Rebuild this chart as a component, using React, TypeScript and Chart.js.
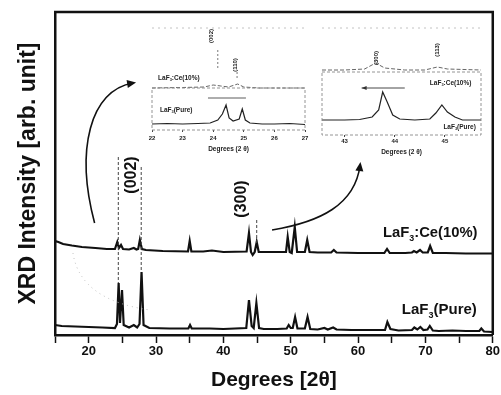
import React, { useEffect, useRef } from "react";
import { Chart, registerables } from "chart.js";
Chart.register(...registerables);

const FONT = "'Liberation Sans', Arial, Helvetica, sans-serif";

// ---------- main chart data ----------
const xTickValues = [15, 20, 25, 30, 35, 40, 45, 50, 55, 60, 65, 70, 75, 80];

const pureDeg = [15, 16, 18, 20, 22, 23.9, 24.2, 24.45, 24.65, 24.95, 25.2, 26, 26.7, 27.2, 27.55, 27.85, 28.15, 29, 32, 34.8, 35.05, 35.3, 38, 40, 43.4, 43.8, 44.2, 44.5, 44.9, 45.3, 46, 48, 49.4, 49.7, 50.0, 50.3, 50.65, 51.0, 52.1, 52.5, 52.9, 54, 55, 55.5, 56.3, 56.8, 59, 62, 64.0, 64.35, 64.8, 66, 68.0, 68.35, 68.8, 69.25, 69.7, 70.3, 70.65, 71.1, 72, 74, 76, 78.0, 78.3, 78.7, 80];
const pureInt = [12, 11, 10.5, 10, 9.5, 9, 13, 54, 14, 47, 12, 9.5, 12, 9.5, 13, 65, 12, 9, 8.5, 8.5, 12, 8.5, 8.5, 8, 9, 37, 11, 9, 34, 9, 8, 8, 8.5, 12, 9, 9, 20, 8.5, 8.5, 20, 8, 7.5, 9, 7.5, 9.5, 7.5, 7, 7, 7, 15, 8, 6.5, 7, 9.5, 7.5, 10, 7, 7.5, 11, 6.5, 6, 6.5, 6, 6, 8.5, 5.5, 5];

const ceDeg = [15, 15.5, 16.2, 17.5, 19, 21, 22.7, 23.9, 24.25, 24.5, 24.8, 25.1, 26, 26.7, 27.1, 27.35, 27.6, 27.9, 28.5, 31, 34.75, 35.0, 35.25, 37, 38.3, 40, 43.45, 43.8, 44.1, 44.35, 44.65, 44.95, 45.25, 47, 49.3, 49.55, 49.85, 50.15, 50.6, 50.95, 52.1, 52.45, 52.8, 54, 56.0, 56.4, 56.8, 60, 63.9, 64.3, 64.7, 67, 68.0, 68.3, 68.7, 69.2, 69.6, 70.35, 70.7, 71.1, 73, 76, 80];
const ceInt = [96, 95, 93, 91.5, 90, 89, 88, 88, 95, 89, 92, 88, 87.5, 89, 87.5, 88, 97, 88, 87, 86, 85.5, 96, 85.5, 85.5, 86.5, 85, 85.5, 104, 85, 82, 85, 95, 85, 85, 85, 100, 85, 84, 110, 85, 85, 97, 85, 84.5, 84.5, 87, 84.5, 84, 84, 88, 84, 84, 84.5, 86, 84.5, 87, 84.5, 84.5, 91, 84, 84, 83.5, 83.5];

// ---------- inset data ----------
const inset1Ticks = [22, 23, 24, 25, 26, 27];
const inset1PureDeg = [22, 22.5, 23, 23.5, 23.9, 24.15, 24.3, 24.42, 24.52, 24.65, 24.85, 24.95, 25.05, 25.2, 25.6, 26, 26.5, 27];
const inset1PureInt = [6, 6.5, 6, 6.5, 7, 10, 16, 25, 12, 9, 11, 21, 10, 7, 6, 6, 6.5, 5.5];
const inset1CeDeg = [22, 23, 23.7, 24.0, 24.25, 24.5, 24.8, 25.0, 25.5, 26, 27];
const inset1CeInt = [42, 42.5, 43, 45, 44, 43, 46, 43, 42, 42, 42];

const inset2Ticks = [43, 44, 45];
const inset2PureDeg = [42.55, 43, 43.3, 43.55, 43.68, 43.76, 43.85, 43.96, 44.1, 44.4, 44.7, 44.82, 44.94, 45.05, 45.2, 45.35, 45.72];
const inset2PureInt = [15, 15, 15.5, 18, 25, 43, 33, 20, 16, 15, 16, 22, 30, 23, 18, 15, 15];
const inset2CeDeg = [42.55, 43, 43.4, 43.62, 43.8, 44.2, 44.6, 44.85, 45.05, 45.72];
const inset2CeInt = [65, 65, 66, 72, 67, 65, 65, 68, 66, 65];

const toXY = (xs: number[], ys: number[]) => xs.map((x, i) => ({ x, y: ys[i] }));

// ---------- drawing helpers ----------
function drawLaF(ctx: CanvasRenderingContext2D, x: number, y: number, size: number, rest: string, color = "#111") {
  ctx.save();
  ctx.fillStyle = color;
  ctx.textAlign = "left";
  ctx.textBaseline = "middle";
  ctx.font = `bold ${size}px ${FONT}`;
  ctx.fillText("LaF", x, y);
  const w1 = ctx.measureText("LaF").width;
  ctx.font = `bold ${size * 0.6}px ${FONT}`;
  ctx.fillText("3", x + w1, y + size * 0.35);
  const w2 = ctx.measureText("3").width;
  ctx.font = `bold ${size}px ${FONT}`;
  ctx.fillText(rest, x + w1 + w2, y);
  ctx.restore();
}

function rotText(ctx: CanvasRenderingContext2D, text: string, x: number, y: number, size: number, color = "#111") {
  ctx.save();
  ctx.translate(x, y);
  ctx.rotate(-Math.PI / 2);
  ctx.font = `bold ${size}px ${FONT}`;
  ctx.fillStyle = color;
  ctx.textAlign = "center";
  ctx.textBaseline = "middle";
  ctx.fillText(text, 0, 0);
  ctx.restore();
}

function arrowHead(ctx: CanvasRenderingContext2D, x: number, y: number, ang: number, len: number, wid: number) {
  ctx.beginPath();
  ctx.moveTo(x, y);
  ctx.lineTo(x - len * Math.cos(ang) + wid * Math.sin(ang), y - len * Math.sin(ang) - wid * Math.cos(ang));
  ctx.lineTo(x - len * Math.cos(ang) - wid * Math.sin(ang), y - len * Math.sin(ang) + wid * Math.cos(ang));
  ctx.closePath();
  ctx.fill();
}

function curvedArrow(ctx: CanvasRenderingContext2D, pts: number[][]) {
  const [p0, p1, p2, p3] = pts;
  ctx.beginPath();
  ctx.moveTo(p0[0], p0[1]);
  ctx.bezierCurveTo(p1[0], p1[1], p2[0], p2[1], p3[0], p3[1]);
  ctx.stroke();
  const ang = Math.atan2(p3[1] - p2[1], p3[0] - p2[0]);
  arrowHead(ctx, p3[0] + 3 * Math.cos(ang), p3[1] + 3 * Math.sin(ang), ang, 9, 4);
}

// ---------- main decor plugin ----------
const mainDecor = {
  id: "mainDecor",
  afterDraw(chart: any) {
    const { ctx, chartArea: a, scales } = chart;
    const X = (d: number) => scales.x.getPixelForValue(d);
    const Y = (v: number) => scales.y.getPixelForValue(v);
    ctx.save();
    // frame top & right
    ctx.strokeStyle = "#111";
    ctx.lineWidth = 2.5;
    ctx.beginPath();
    ctx.moveTo(a.left - 1, a.top);
    ctx.lineTo(a.right, a.top);
    ctx.lineTo(a.right, a.bottom);
    ctx.stroke();

    // dashed guide lines
    ctx.strokeStyle = "#444";
    ctx.lineWidth = 1;
    ctx.setLineDash([3, 2]);
    const guides = [[24.4, 180, 54], [27.8, 170, 65], [44.95, 117, 92]];
    guides.forEach(([d, v1, v2]) => {
      ctx.beginPath();
      ctx.moveTo(X(d), Y(v1));
      ctx.lineTo(X(d), Y(v2));
      ctx.stroke();
    });

    // faint dotted arc
    ctx.strokeStyle = "#bbb";
    ctx.setLineDash([1, 4]);
    ctx.beginPath();
    ctx.moveTo(X(17.67), Y(84));
    ctx.quadraticCurveTo(X(18.7), Y(37), X(29.1), Y(27));
    ctx.stroke();
    ctx.setLineDash([]);

    // curved arrows
    ctx.strokeStyle = "#111";
    ctx.fillStyle = "#111";
    ctx.lineWidth = 1.6;
    curvedArrow(ctx, [[X(20.88), Y(114)], [X(18.0), Y(187)], [X(20.2), Y(247)], [X(26.6), Y(254)]]);
    curvedArrow(ctx, [[X(47.23), Y(107)], [X(54.35), Y(115)], [X(59.55), Y(132)], [X(60.3), Y(172)]]);

    // peak labels
    rotText(ctx, "(002)", X(26.43), Y(162), 16);
    rotText(ctx, "(300)", X(42.75), Y(138), 16);

    // series labels
    drawLaF(ctx, X(63.7), Y(104), 14.8, ":Ce(10%)");
    drawLaF(ctx, X(66.5), Y(27), 15, "(Pure)");
    ctx.restore();
  },
};

function MainChart() {
  const ref = useRef<HTMLCanvasElement>(null);
  useEffect(() => {
    const chart = new Chart(ref.current as HTMLCanvasElement, {
      type: "line",
      data: {
        datasets: [
          { data: toXY(ceDeg, ceInt), borderColor: "#111", borderWidth: 2.2, pointRadius: 0, tension: 0, fill: false },
          { data: toXY(pureDeg, pureInt), borderColor: "#111", borderWidth: 2.2, pointRadius: 0, tension: 0, fill: false },
        ],
      },
      options: {
        animation: false,
        responsive: false,
        devicePixelRatio: 1,
        layout: { padding: { top: 12, right: 8, left: 0, bottom: 0 } },
        plugins: { legend: { display: false }, tooltip: { enabled: false } },
        scales: {
          x: {
            type: "linear",
            min: 15,
            max: 80,
            afterFit: (s: any) => { s.height = 60; },
            afterBuildTicks: (s: any) => { s.ticks = xTickValues.map((v) => ({ value: v })); },
            ticks: {
              autoSkip: false,
              maxRotation: 0,
              padding: 1,
              color: "#111",
              font: { family: FONT, size: 13, weight: "bold" },
              callback: (v: any) => (Number(v) % 10 === 0 && Number(v) > 15 ? String(v) : ""),
            },
            grid: { display: true, drawOnChartArea: false, drawTicks: true, tickLength: 8, tickWidth: 1.5, tickColor: "#111" },
            border: { display: true, color: "#111", width: 2.5 },
            title: {
              display: true,
              text: "Degrees [2θ]",
              color: "#111",
              font: { family: FONT, size: 21, weight: "bold" },
              padding: { top: 0, bottom: 2 },
            },
          },
          y: {
            type: "linear",
            min: 2,
            max: 325,
            afterFit: (s: any) => { s.width = 55; },
            ticks: { display: false },
            grid: { display: false, drawTicks: false },
            border: { display: true, color: "#111", width: 2.5 },
            title: {
              display: true,
              text: "XRD Intensity [arb. unit]",
              color: "#111",
              font: { family: FONT, size: 23, weight: "bold" },
              padding: { top: 15, bottom: 0 },
            },
          },
        },
      },
      plugins: [mainDecor],
    } as any);
    return () => chart.destroy();
  }, []);
  return <canvas ref={ref} width={501} height={395} style={{ position: "absolute", left: 0, top: 0 }} />;
}

// ---------- inset charts ----------
type InsetProps = {
  left: number; top: number; width: number; height: number;
  pad: { left: number; right: number; top: number };
  axisH: number; tickPad: number;
  xMin: number; xMax: number; yMax: number; frameTop: number;
  ticks: number[];
  pure: { x: number; y: number }[];
  ce: { x: number; y: number }[];
  decor: (ctx: CanvasRenderingContext2D, X: (d: number) => number, Y: (v: number) => number) => void;
};

function InsetChart(p: InsetProps) {
  const ref = useRef<HTMLCanvasElement>(null);
  useEffect(() => {
    const deco = {
      id: "insetDecor",
      afterDraw(chart: any) {
        const { ctx, chartArea: a, scales } = chart;
        const X = (d: number) => scales.x.getPixelForValue(d);
        const Y = (v: number) => scales.y.getPixelForValue(v);
        ctx.save();
        ctx.strokeStyle = "#888";
        ctx.lineWidth = 0.9;
        ctx.setLineDash([3, 2]);
        const ft = Y(p.frameTop);
        ctx.strokeRect(a.left, ft, a.right - a.left, a.bottom - ft);
        ctx.strokeStyle = "#bbb";
        ctx.setLineDash([2, 4]);
        ctx.beginPath();
        ctx.moveTo(a.left, a.top);
        ctx.lineTo(a.right, a.top);
        ctx.stroke();
        ctx.setLineDash([]);
        p.decor(ctx, X, Y);
        ctx.restore();
      },
    };
    const chart = new Chart(ref.current as HTMLCanvasElement, {
      type: "line",
      data: {
        datasets: [
          { data: p.ce, borderColor: "#666", borderWidth: 1, borderDash: [4, 2], pointRadius: 0, tension: 0, clip: false },
          { data: p.pure, borderColor: "#222", borderWidth: 1.2, pointRadius: 0, tension: 0, clip: false },
        ],
      },
      options: {
        animation: false,
        responsive: false,
        devicePixelRatio: 1,
        layout: { padding: { top: p.pad.top, right: p.pad.right, left: p.pad.left, bottom: 0 } },
        plugins: { legend: { display: false }, tooltip: { enabled: false } },
        scales: {
          x: {
            type: "linear",
            min: p.xMin,
            max: p.xMax,
            afterFit: (s: any) => { s.height = p.axisH; },
            afterBuildTicks: (s: any) => { s.ticks = p.ticks.map((v) => ({ value: v })); },
            ticks: { autoSkip: false, maxRotation: 0, padding: p.tickPad, color: "#222", font: { family: FONT, size: 6, weight: "bold" } },
            grid: { display: true, drawOnChartArea: false, drawTicks: true, tickLength: 2, tickWidth: 1, tickColor: "#444" },
            border: { display: false },
            title: {
              display: true,
              text: "Degrees (2 θ)",
              color: "#222",
              font: { family: FONT, size: 6.5, weight: "bold" },
              padding: { top: 0, bottom: 0 },
            },
          },
          y: { type: "linear", min: 0, max: p.yMax, display: false },
        },
      },
      plugins: [deco],
    } as any);
    return () => chart.destroy();
  }, []);
  return (
    <canvas
      ref={ref}
      width={p.width}
      height={p.height}
      style={{ position: "absolute", left: p.left, top: p.top }}
    />
  );
}

const inset1Decor = (ctx: CanvasRenderingContext2D, X: (d: number) => number, Y: (v: number) => number) => {
  rotText(ctx, "(002)", X(23.93), Y(94), 6);
  rotText(ctx, "(110)", X(24.71), Y(65), 6);
  ctx.strokeStyle = "#555";
  ctx.lineWidth = 0.8;
  ctx.setLineDash([2, 2]);
  ctx.beginPath();
  ctx.moveTo(X(24.15), Y(80)); ctx.lineTo(X(24.15), Y(60));
  ctx.moveTo(X(24.78), Y(58)); ctx.lineTo(X(24.78), Y(50));
  ctx.stroke();
  ctx.setLineDash([]);
  ctx.strokeStyle = "#333";
  ctx.beginPath();
  ctx.moveTo(X(23.83), Y(32)); ctx.lineTo(X(25.07), Y(32));
  ctx.stroke();
  drawLaF(ctx, X(22.2), Y(52), 6.5, ":Ce(10%)", "#222");
  drawLaF(ctx, X(22.26), Y(20), 6.5, "(Pure)", "#222");
};

const inset2Decor = (ctx: CanvasRenderingContext2D, X: (d: number) => number, Y: (v: number) => number) => {
  rotText(ctx, "(300)", X(43.64), Y(77), 6);
  rotText(ctx, "(113)", X(44.84), Y(85), 6);
  ctx.strokeStyle = "#333";
  ctx.fillStyle = "#333";
  ctx.lineWidth = 0.9;
  ctx.beginPath();
  ctx.moveTo(X(44.2), Y(47)); ctx.lineTo(X(43.34), Y(47));
  ctx.stroke();
  arrowHead(ctx, X(43.34), Y(47), Math.PI, 5, 2);
  drawLaF(ctx, X(44.7), Y(52), 6.5, ":Ce(10%)", "#222");
  drawLaF(ctx, X(44.97), Y(8), 6.5, "(Pure)", "#222");
};

export default function App() {
  return (
    <div style={{ position: "fixed", left: 0, top: 0, width: 501, height: 395, background: "#fff", overflow: "hidden" }}>
      <MainChart />
      <InsetChart
        left={140} top={18} width={172} height={135}
        pad={{ left: 12, right: 7, top: 10 }} axisH={23} tickPad={3}
        xMin={22} xMax={27} yMax={102} frameTop={42}
        ticks={inset1Ticks}
        pure={toXY(inset1PureDeg, inset1PureInt)}
        ce={toXY(inset1CeDeg, inset1CeInt)}
        decor={inset1Decor}
      />
      <InsetChart
        left={310} top={18} width={180} height={138}
        pad={{ left: 12, right: 9, top: 10 }} axisH={21} tickPad={1}
        xMin={42.55} xMax={45.72} yMax={107} frameTop={63}
        ticks={inset2Ticks}
        pure={toXY(inset2PureDeg, inset2PureInt)}
        ce={toXY(inset2CeDeg, inset2CeInt)}
        decor={inset2Decor}
      />
    </div>
  );
}
